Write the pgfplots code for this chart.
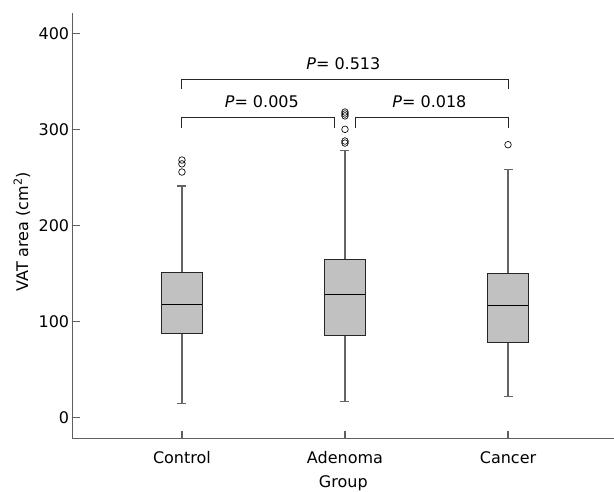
\documentclass[border=0pt]{standalone}
\usepackage{pgfplots}
\pgfplotsset{compat=1.18}
\usepackage{fontspec}
\setmainfont{DejaVu Sans}
\definecolor{boxfill}{RGB}{192,193,192}
\definecolor{axgray}{RGB}{95,95,95}
\definecolor{wgray}{RGB}{100,100,100}
\begin{document}
\begin{tikzpicture}
\begin{axis}[
 scale only axis, width=541.3bp, height=426bp,
 xmin=0.33, xmax=3.65, ymin=-22.3, ymax=421.5,
 axis x line=bottom, axis y line=left,
 axis line style={axgray, line width=1.2bp, -},
 xtick={1,2,3}, xticklabels={Control,Adenoma,Cancer},
 ytick={0,100,200,300,400},
 minor tick num=0,
 tick align=inside, major tick length=7.5bp,
 tick style={axgray, line width=1.2bp},
 font=\fontsize{16bp}{19bp}\selectfont,
 ticklabel style={font=\fontsize{16bp}{19bp}\selectfont},
 xticklabel style={yshift=-9bp},
 /pgf/number format/assume math mode=true,
 xlabel={Group}, ylabel={VAT area (cm\textsuperscript{2})},
 xlabel style={at={(axis description cs:0.5,-0.104)}, anchor=center},
 ylabel style={at={(axis description cs:-0.0937,0.486)}, anchor=center},
 clip=false,
]
% ---- Control
\addplot[wgray, line width=1.2bp] coordinates {(1,150.6) (1,241)};
\addplot[wgray, line width=1.2bp] coordinates {(0.9725,241) (1.0275,241)};
\addplot[wgray, line width=1.2bp] coordinates {(1,87.5) (1,14.2)};
\addplot[wgray, line width=1.2bp] coordinates {(0.9725,14.2) (1.0275,14.2)};
\addplot[draw=black!85, fill=boxfill, line width=0.9bp] coordinates {(0.875,87.5) (1.125,87.5) (1.125,150.6) (0.875,150.6)} -- cycle;
\addplot[black, line width=1bp] coordinates {(0.875,118) (1.125,118)};
\addplot[only marks, mark=o, mark size=3.3bp, mark options={black, line width=0.65bp}] coordinates {(1,268) (1,264) (1,255.5)};
% ---- Adenoma
\addplot[wgray, line width=1.2bp] coordinates {(2,164.9) (2,277.8)};
\addplot[wgray, line width=1.2bp] coordinates {(1.9725,277.8) (2.0275,277.8)};
\addplot[wgray, line width=1.2bp] coordinates {(2,85.7) (2,16.7)};
\addplot[wgray, line width=1.2bp] coordinates {(1.9725,16.7) (2.0275,16.7)};
\addplot[draw=black!85, fill=boxfill, line width=0.9bp] coordinates {(1.875,85.7) (2.125,85.7) (2.125,164.9) (1.875,164.9)} -- cycle;
\addplot[black, line width=1bp] coordinates {(1.875,127.7) (2.125,127.7)};
\addplot[only marks, mark=o, mark size=3.3bp, mark options={black, line width=0.65bp}] coordinates {(2,318) (2,316) (2,314) (2,300) (2,287.8) (2,285.7)};
% ---- Cancer
\addplot[wgray, line width=1.2bp] coordinates {(3,150) (3,258.4)};
\addplot[wgray, line width=1.2bp] coordinates {(2.9725,258.4) (3.0275,258.4)};
\addplot[wgray, line width=1.2bp] coordinates {(3,78) (3,21.5)};
\addplot[wgray, line width=1.2bp] coordinates {(2.9725,21.5) (3.0275,21.5)};
\addplot[draw=black!85, fill=boxfill, line width=0.9bp] coordinates {(2.875,78) (3.125,78) (3.125,150) (2.875,150)} -- cycle;
\addplot[black, line width=1bp] coordinates {(2.875,116.5) (3.125,116.5)};
\addplot[only marks, mark=o, mark size=3.3bp, mark options={black, line width=0.65bp}] coordinates {(3,284)};
% ---- brackets
\addplot[black!85, line width=0.9bp] coordinates {(1,342) (1,352.4) (3,352.4) (3,342)};
\addplot[black!85, line width=0.9bp] coordinates {(1,301) (1,312.2) (1.937,312.2) (1.937,301)};
\addplot[black!85, line width=0.9bp] coordinates {(2.063,301) (2.063,312.2) (3,312.2) (3,301)};
\node[anchor=center] at (axis cs:1.99,368.3) {\textit{P}= 0.513};
\node[anchor=center] at (axis cs:1.49,328.4) {\textit{P}= 0.005};
\node[anchor=center] at (axis cs:2.518,328.4) {\textit{P}= 0.018};
\end{axis}
\pgfresetboundingbox
\useasboundingbox (-72.7bp,-53.3bp) rectangle (541.3bp,438.7bp);
\end{tikzpicture}
\end{document}
